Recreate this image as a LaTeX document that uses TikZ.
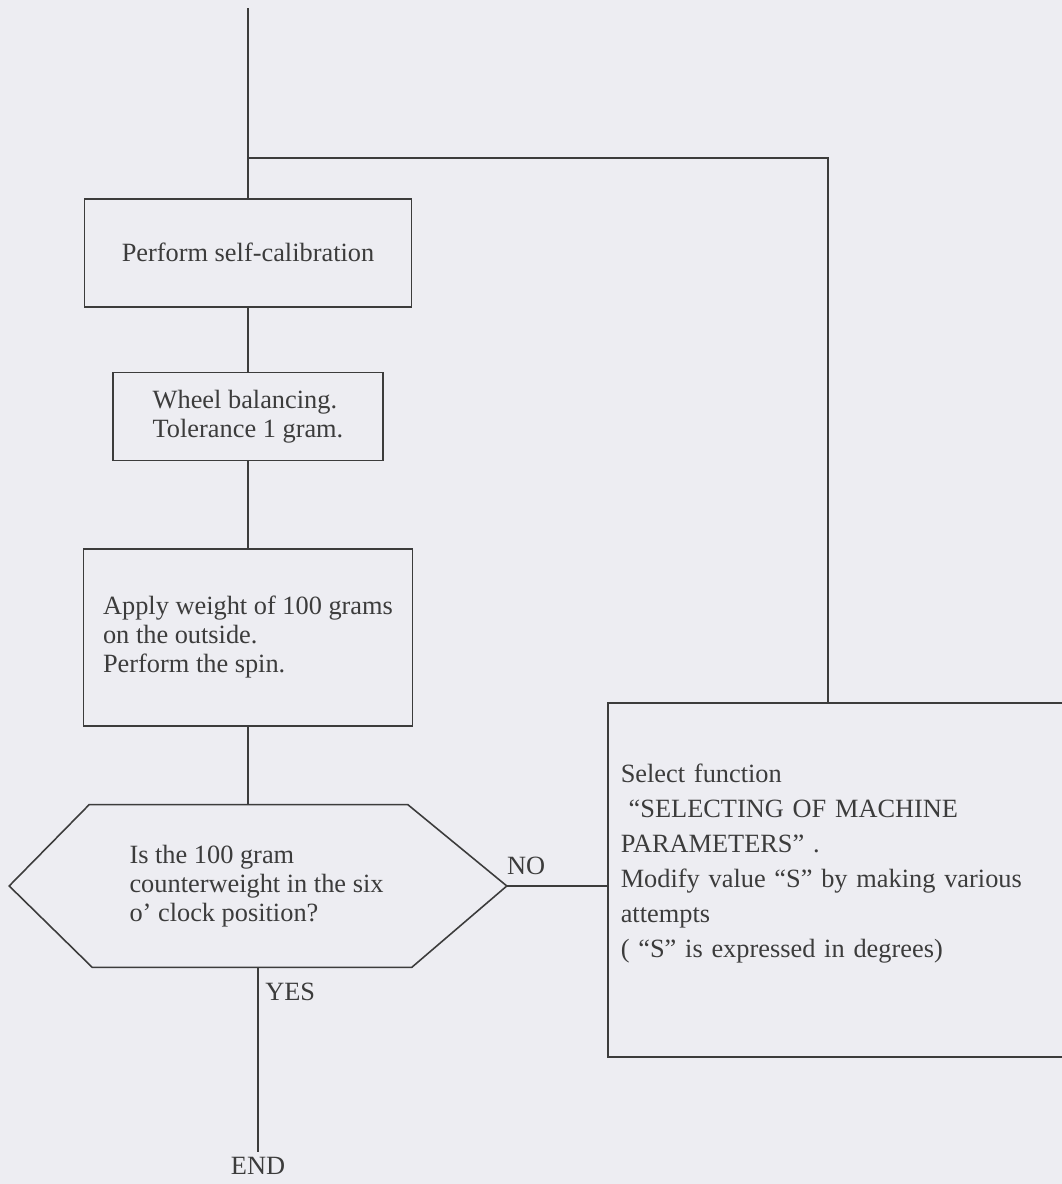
\documentclass[tikz,border=0pt]{standalone}
\usepackage{fontspec}
\setmainfont{Liberation Serif}
\usetikzlibrary{positioning}
\definecolor{paper}{RGB}{237,237,242}
\definecolor{ink}{RGB}{60,60,60}

\begin{document}
\begin{tikzpicture}[
    x=0.02cm, y=-0.02cm,
    font=\fontsize{15}{16.5}\selectfont,
    box/.style={rectangle, draw=ink, text=ink, line width=0.9pt, align=left},
    line/.style={draw=ink, line width=0.9pt},
    tag/.style={text=ink, inner sep=0pt}
]
\fill[paper] (0,0) rectangle (1062,1184);
\useasboundingbox (0,0) rectangle (1062,1184);

\node[box, minimum width=6.54cm, minimum height=2.16cm, anchor=north] (calib) at (248,198) {Perform self-calibration};
\node[box, minimum width=5.4cm, minimum height=1.76cm, below=1.28cm of calib] (bal) {Wheel balancing.\\Tolerance 1 gram.};
\node[box, minimum width=6.58cm, minimum height=3.54cm, below=1.74cm of bal] (spin) {Apply weight of 100 grams\\on the outside.\\Perform the spin.};
\node[minimum width=9.94cm, minimum height=3.24cm, inner sep=0pt, below=1.56cm of spin, xshift=0.2cm] (check) {};
\node[tag, align=left, anchor=west] (question) at ([xshift=2.4cm]check.west) {Is the 100 gram\\counterweight in the six\\o’\ clock position?};
\node[box, text width=8.84cm, inner xsep=0.26cm, minimum height=7.08cm, anchor=north west,
      font=\fontsize{15}{19.9}\selectfont] (select) at (607,702)
     {Select function\\
      \hspace*{0.3em}“SELECTING OF MACHINE\\
      PARAMETERS”\ .\\
      Modify value\ “S”\ by making various\\
      attempts\\
      (\ “S”\ is expressed in degrees)\par\vspace{0.64cm}};

% hexagon outline
\draw[line] (check.west) -- ([xshift=1.6cm]check.north west) -- ([xshift=-1.98cm]check.north east)
    -- (check.east) -- ([xshift=-1.9cm]check.south east) -- ([xshift=1.66cm]check.south west) -- cycle;

\coordinate[above=3.8cm of calib.north] (top);
\coordinate[above=0.8cm of calib.north] (br);
\coordinate[below=3.7cm of check.south] (stop);
\node[tag, below=0.1cm of stop] (finish) {END};
\node[tag, anchor=south west] (no) at ([yshift=0.22cm]check.east) {NO};
\node[tag, anchor=north west] (yes) at ([xshift=0.14cm, yshift=-0.3cm]check.south) {YES};

\draw[line] (top) -- (calib);
\draw[line] (br) -| ([xshift=-0.28cm]select.north);
\draw[line] (calib) -- (bal);
\draw[line] (bal) -- (spin);
\draw[line] (spin.south) -- (spin.south |- check.north);
\draw[line] (check.east) -- (check.east -| select.west);
\draw[line] (check.south) -- (stop);
\end{tikzpicture}
\end{document}
